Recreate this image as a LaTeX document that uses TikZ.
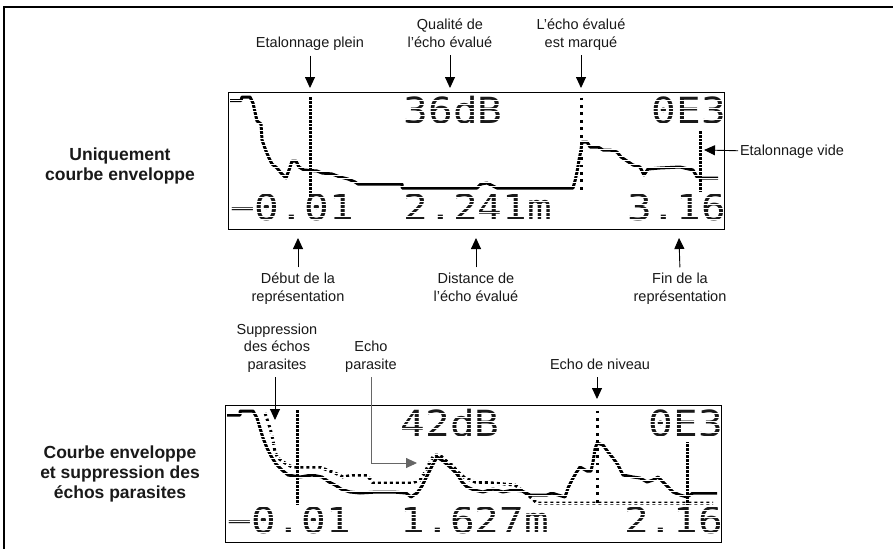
\documentclass[tikz,border=0pt]{standalone}
\usepackage{fontspec}
\setmainfont{Liberation Sans}
\newfontfamily\lcdfont{DejaVu Sans Mono}
\usetikzlibrary{arrows.meta}
\newcommand{\mlines}[1]{\begin{tabular}[b]{@{}c@{}}#1\end{tabular}}
\begin{document}
\begin{tikzpicture}[x=1pt,y=-1pt,
  lbl/.style={font=\fontsize{14.5}{17.5}\selectfont, inner sep=0pt, outer sep=0pt, text=black!90, anchor=base},
  blbl/.style={font=\bfseries\fontsize{17.5}{20}\selectfont, inner sep=0pt, outer sep=0pt, text=black!90, anchor=base},
  lcd/.style={font=\lcdfont\fontsize{36}{36}\selectfont, anchor=base west, inner sep=0pt, text=black!90},
  arr/.style={-{Triangle[width=10pt,length=11pt]}, line width=0.9pt, black},
  lcdbox/.style={draw=black, line width=1.4pt, fill=white, minimum width=496pt, minimum height=137pt, anchor=north west, inner sep=0pt},
  curve/.style={line width=3pt, black, line join=round},
  sup/.style={line width=3pt, black, dash pattern=on 3pt off 3pt},
  densemark/.style={line width=3pt, black},
  sparsemark/.style={line width=3pt, black, dash pattern=on 2.8pt off 4.64pt},
  scan/.style={white, line width=0.8pt},
  frame/.style={line width=2pt, black}
]
\useasboundingbox (0,0) rectangle (893,549);
\fill[white] (0,0) rectangle (893,549);
% outer frame
\draw[frame] (3,7) -- (893,7);
\draw[frame] (4,7) -- (4,549);

% ================= top display =================
\node[lcdbox] (boxA) at (228,92) {};
% envelope curve
\draw[curve] plot coordinates {(230,100.5) (241,100.5) (242,97) (250,97) (253,103) (255,112) (257,121) (261,124) (262,140) (266,151) (269,158) (272,164) (277,168) (281,173) (286,178) (289,170) (292,161) (296,161) (299,167) (304,170) (317,171) (322,173) (332,174) (340,177) (348,179) (355,182) (358,184) (402,184) (402,188) (477,188) (481,184) (487,183) (493,186) (497,188) (573,188) (575,181) (577,172) (579,160) (581,150) (582,142) (587,142) (590,147) (598,147) (603,150) (610,150) (617,152) (621,157) (627,161) (633,165) (640,167) (644,175) (648,169) (660,168) (680,167) (693,170) (697,177) (700,178) (718,178)};
% markers
\draw[densemark] (310,97) -- (310,197);
\draw[sparsemark] (581,97.5) -- (581,192);
\draw[densemark] (700,130) -- (700,192);
% LCD texts
\node[lcd] (a36) at (403.6,123) {\scalebox{1.14}[1]{36dB}};
\node[lcd] (aE3) at (651.6,123) {\scalebox{1.14}[1]{0E3}};
\node[lcd] (aleft) at (230,220) {\scalebox{1.14}[1]{−0.01}};
\node[lcd] (adist) at (403.6,220) {\scalebox{1.14}[1]{2.241m}};
\node[lcd] (aright) at (626.8,220) {\scalebox{1.14}[1]{3.16}};
\foreach \k in {1,...,34} { \draw[scan] (229.5,{97+\k*3.72}) -- (722.5,{97+\k*3.72}); }

% ================= bottom display =================
\node[lcdbox] (boxB) at (225,405) {};
\draw[sup] plot coordinates {(265,413) (270,428) (273,440) (275,452) (278,458) (285,463) (292,467) (320,467) (327,470) (335,473) (343,477) (353,475) (367,475) (373,483) (412,483) (420,480) (425,472) (430,462) (434,455) (440,455) (445,460) (452,465) (458,472) (465,478) (475,482) (493,483) (515,485) (528,495) (537,503) (713,503)};
\draw[curve] plot coordinates {(227,415) (240,415) (240,411) (253,411) (257,418) (260,428) (263,438) (267,448) (271,456) (276,464) (282,470) (288,475) (300,477) (306,476) (312,475) (322,477) (329,482) (335,485) (341,489) (350,492) (360,493) (377,492) (393,492) (406,493) (411,497) (417,493) (422,486) (427,476) (432,466) (437,457) (443,461) (450,467) (457,474) (462,482) (467,487) (474,490) (483,492) (493,489) (503,492) (513,490) (522,491) (530,495) (547,495) (552,493) (558,495) (565,497) (568,488) (572,480) (576,473) (580,467) (587,471) (591,471) (593,462) (595,449) (597,443) (603,445) (608,452) (613,458) (618,465) (623,475) (633,477) (640,478) (647,482) (653,480) (658,477) (663,482) (668,487) (673,492) (680,495) (687,497) (693,493) (717,493)};
\draw[densemark] (297,410) -- (297,505);
\draw[sparsemark] (597,410.5) -- (597,505);
\draw[densemark] (687,442) -- (687,505);
\node[lcd] (b42) at (400.6,436) {\scalebox{1.14}[1]{42dB}};
\node[lcd] (bE3) at (648.6,436) {\scalebox{1.14}[1]{0E3}};
\node[lcd] (bleft) at (227,533) {\scalebox{1.14}[1]{−0.01}};
\node[lcd] (bdist) at (400.6,533) {\scalebox{1.14}[1]{1.627m}};
\node[lcd] (bright) at (623.8,533) {\scalebox{1.14}[1]{2.16}};
\foreach \k in {1,...,34} { \draw[scan] (226.5,{410+\k*3.72}) -- (719.5,{410+\k*3.72}); }

% ================= labels top =================
\node[lbl] (lplein) at (310,47) {Etalonnage plein};
\node[lbl] (lqual) at (450,47) {\mlines{Qualité de\\l’écho évalué}};
\node[lbl] (lmark) at (581,47) {\mlines{L’écho évalué\\est marqué}};
\coordinate (tplein) at (310,88);
\coordinate (tqual) at (450,88);
\coordinate (tmark) at (581,88);
\draw[arr, shorten <=5pt] (lplein.base) ++(0,3.5) -- (tplein);
\draw[arr, shorten <=3pt] (lqual.south) -- (tqual);
\draw[arr, shorten <=3pt] (lmark.south) -- (tmark);

\node[lbl, anchor=base west] (lvide) at (740,155) {Etalonnage vide};
\coordinate (tvide) at (704,150);
\draw[arr] (lvide.west) ++(-2,-0.5) -- (tvide);

\node[lbl] (ldebut) at (298,301) {\mlines{Début de la\\représentation}};
\node[lbl] (ldist) at (476,301) {\mlines{Distance de\\l’écho évalué}};
\node[lbl] (lfin) at (680,301) {\mlines{Fin de la\\représentation}};
\coordinate (tdebut) at (298,238);
\coordinate (tdist) at (476,238);
\coordinate (tfin) at (679,238);
\draw[arr, shorten <=4pt] (ldebut.north) -- (tdebut);
\draw[arr, shorten <=4pt] (ldist.north) -- (tdist);
\draw[arr, shorten <=4pt] (lfin.north) -- (tfin);

\node[blbl] (lsec1) at (120,180) {\mlines{Uniquement\\courbe enveloppe}};
\node[blbl] (lsec2) at (120,498) {\mlines{Courbe enveloppe\\et suppression des\\échos parasites}};

% ================= labels bottom =================
\node[lbl] (lsupp) at (277,369) {\mlines{Suppression\\des échos\\parasites}};
\node[lbl] (lepar) at (371,369) {\mlines{Echo\\parasite}};
\node[lbl] (lniv) at (600,369) {Echo de niveau};
\coordinate (tsupp) at (275,420);
\coordinate (epar) at (417,463);
\coordinate (tniv) at (597,399);
\draw[arr] (275,377) -- (tsupp);
\draw[arr, black!60] (371,377) |- (epar);
\draw[arr] (597,377) -- (tniv);
\end{tikzpicture}
\end{document}
